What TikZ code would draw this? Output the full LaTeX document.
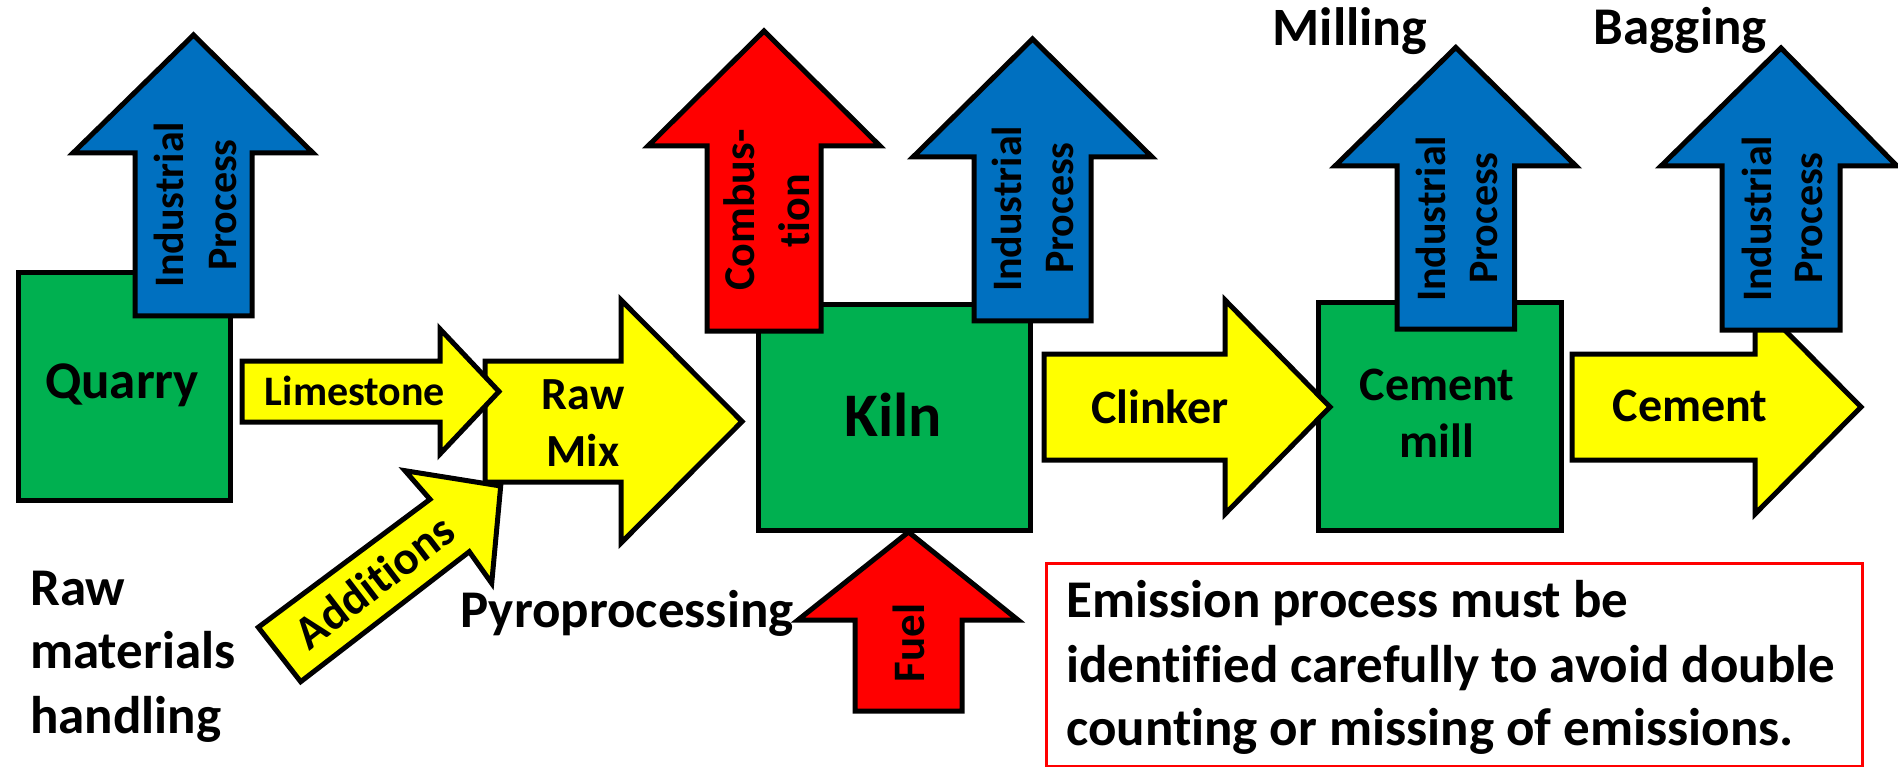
\documentclass[tikz,border=0pt]{standalone}
\usepackage{fontspec}
\setmainfont{Carlito}[Ligatures=NoCommon]
\definecolor{stagegreen}{HTML}{00B050}
\definecolor{procblue}{HTML}{0070C0}
\definecolor{burnred}{HTML}{FF0000}
\definecolor{flowyellow}{HTML}{FFFF00}
\tikzset{
  outl/.style={draw=black, line width=5pt, line join=miter, miter limit=10},
  stagebox/.style={outl, fill=stagegreen},
  procarrow/.style={outl, fill=procblue},
  burnarrow/.style={outl, fill=burnred},
  flowarrow/.style={outl, fill=flowyellow},
  fs/.style={inner sep=0pt, font=\bfseries\fontsize{#1}{#1}\selectfont},
  up/.style={rotate=90, anchor=base}
}
% vertical block arrow: shaft left, shaft right, bottom, head base, head left, head right, tip y
\newcommand\uparrowshape[8]{%
  \draw[#1] (#2,#4) -- (#2,#5) -- (#6,#5) -- ({(#2+#3)/2},#8) -- (#7,#5) -- (#3,#5) -- (#3,#4) -- cycle;}
% horizontal block arrow: shaft left, shaft top, shaft bottom, head x, head top, head bottom, tip x
\newcommand\rightarrowshape[8]{%
  \draw[#1] (#2,#3) -- (#5,#3) -- (#5,#6) -- (#8,{(#6+#7)/2}) -- (#5,#7) -- (#5,#4) -- (#2,#4) -- cycle;}
\begin{document}
\begin{tikzpicture}[x=1pt,y=-1pt]
\useasboundingbox (0,0) rectangle (1898,767);

% ---- raw materials handling ----
\node[stagebox, anchor=north west, minimum width=212pt, minimum height=228pt] (quarry) at (16,270) {};
\node[fs=53, anchor=base] (quarrylbl) at (122,398) {Quarry};
\uparrowshape{procarrow}{135}{252}{316}{153}{73}{313}{35}
\node[fs=42, up] (ip1a) at (183,205) {Industrial};
\node[fs=42, up] (ip1b) at (236.5,205) {Process};

\rightarrowshape{flowarrow}{485}{361}{482}{621}{300}{543}{742}
\node[fs=46, anchor=base] (rawmixa) at (583,409) {Raw};
\node[fs=46, anchor=base] (rawmixb) at (583,466) {Mix};

\rightarrowshape{flowarrow}{242}{361}{422}{440}{329}{454}{499}
\node[fs=42, anchor=base] (limelbl) at (355,405) {Limestone};

\draw[flowarrow] (258.3,627.3) -- (430,499.3) -- (405,470.7) -- (500.7,486)
  -- (491.7,583.3) -- (469.3,551.7) -- (300.7,681.7) -- cycle;
\node[fs=47, rotate=37.5, anchor=base] (addlbl) at (384,594) {Additions};

\node[fs=53, anchor=base west] (rmh1) at (30,605) {Raw};
\node[fs=53, anchor=base west] (rmh2) at (30,668) {materials};
\node[fs=53, anchor=base west] (rmh3) at (30,733) {handling};

% ---- pyroprocessing ----
\node[stagebox, anchor=north west, minimum width=272pt, minimum height=226pt] (kiln) at (756,302) {};
\node[fs=62, anchor=base] (kilnlbl) at (893,436) {Kiln};
\uparrowshape{burnarrow}{707}{821}{331}{146}{648}{880}{31}
\node[fs=44, up] (comba) at (754,210) {Combus-};
\node[fs=44, up] (combb) at (809.6,211) {tion};
\uparrowshape{procarrow}{974}{1091}{321}{157}{913}{1152}{39}
\node[fs=42, up] (ip2a) at (1021.7,209) {Industrial};
\node[fs=42, up] (ip2b) at (1073,208) {Process};
\uparrowshape{burnarrow}{855}{962}{711}{620}{798}{1018}{532}
\node[fs=45, up] (fuellbl) at (924,643) {Fuel};
\node[fs=53, anchor=base] (pyrolbl) at (627,627) {Pyroprocessing};

% ---- milling ----
\node[stagebox, anchor=north west, minimum width=243pt, minimum height=228pt] (mill) at (1316,300) {};
\node[fs=48, anchor=base] (milla) at (1437,400.7) {Cement};
\node[fs=48, anchor=base] (millb) at (1437,457) {mill};
\rightarrowshape{flowarrow}{1044}{354}{460}{1225}{300}{514}{1330}
\node[fs=48, anchor=base] (clinkerlbl) at (1160,423) {Clinker};
\uparrowshape{procarrow}{1397}{1514.5}{329}{166}{1335}{1576}{47.5}
\node[fs=42, up] (ip3a) at (1445.5,219) {Industrial};
\node[fs=42, up] (ip3b) at (1497,218) {Process};
\node[fs=54, anchor=base] (millinglbl) at (1350,45.7) {Milling};

% ---- bagging ----
\rightarrowshape{flowarrow}{1572}{354}{460}{1755}{300}{514}{1861}
\node[fs=48, anchor=base] (cementlbl) at (1690,421) {Cement};
\uparrowshape{procarrow}{1722}{1840}{330}{166}{1661}{1897}{48}
\node[fs=42, up] (ip4a) at (1771,219) {Industrial};
\node[fs=42, up] (ip4b) at (1822,218) {Process};
\node[fs=53, anchor=base] (bagginglbl) at (1680,44.6) {Bagging};

% ---- note ----
\node[draw=burnred, line width=3pt, anchor=north west, minimum width=816pt, minimum height=203pt] (note) at (1045,562) {};
\node[fs=53, anchor=base west] (note1) at (1066,617) {Emission process must be};
\node[fs=53, anchor=base west] (note2) at (1066,682) {identified carefully to avoid double};
\node[fs=53, anchor=base west] (note3) at (1066,745) {counting or missing of emissions.};
\end{tikzpicture}
\end{document}
